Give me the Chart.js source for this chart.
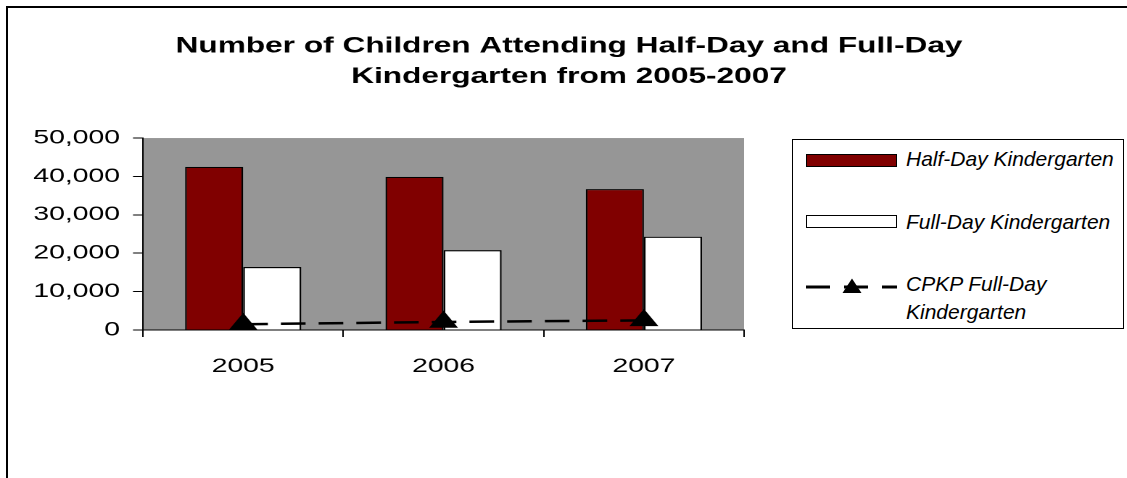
<!DOCTYPE html>
<html>
<head>
<meta charset="utf-8">
<script src="https://cdn.jsdelivr.net/npm/chart.js@4"></script>
<style>
body { margin: 0; background: #fff; }
#page { position: relative; width: 1127px; height: 478px; overflow: hidden; background: #fff; }
#frame { position: absolute; left: 6px; top: 6px; width: 1200px; height: 600px; border-left: 2px solid #000; border-top: 2px solid #000; }
#stretch { position: absolute; left: 0; top: 0; width: 777px; height: 478px; transform: scaleX(1.45045); transform-origin: 0 0; }
#legend { position: absolute; left: 792px; top: 139px; width: 332px; height: 190px; box-sizing: border-box; border: 1px solid #000; background: #fff;
  font-family: "Liberation Sans", Arial, sans-serif; font-style: italic; font-size: 21px; color: #000; }
#legend .sw { position: absolute; left: 13px; width: 91px; height: 13px; box-sizing: border-box; border: 1px solid #000; }
#legend .tx { position: absolute; left: 113px; width: 212px; line-height: 28px; }
#legend svg { position: absolute; left: 13px; top: 137px; }
</style>
</head>
<body>
<div id="page">
  <div id="frame"></div>
  <div id="stretch"><canvas id="myChart"></canvas></div>
  <div id="legend"></div>
</div>
<script>
const years = ['2005', '2006', '2007']
const halfDay = [42500, 39900, 36700]
const fullDay = [16400, 20800, 24300]
const cpkpFullDay = [1500, 2100, 2500]
const yTicks = [0, 10000, 20000, 30000, 40000, 50000]
const titleLines = ['Number of Children Attending Half-Day and Full-Day', 'Kindergarten from 2005-2007']
const seriesNames = ['Half-Day Kindergarten', 'Full-Day Kindergarten', 'CPKP Full-Day Kindergarten']

Chart.defaults.font.family = '"Liberation Sans", Arial, sans-serif'
Chart.defaults.color = '#000'

// grey plot area like the Excel original
const plotBg = {
    id: 'plotBg',
    beforeDraw(chart) {
        const {ctx, chartArea: a} = chart
        ctx.save()
        ctx.fillStyle = '#969696'
        ctx.fillRect(a.left, a.top, a.right - a.left, a.bottom - a.top)
        ctx.restore()
    }
}

const chart = new Chart('myChart', {
    type: 'bar',
    data: {
        labels: years,
        datasets: [{
            type: 'line',
            label: seriesNames[2],
            data: cpkpFullDay,
            borderColor: '#000',
            borderWidth: 2.5,
            borderDash: [17, 9],
            pointStyle: 'triangle',
            pointRadius: 11.5,
            pointBackgroundColor: '#000',
            pointBorderColor: '#000',
            pointBorderWidth: 0,
            fill: false,
            tension: 0,
            order: 0,
            clip: false
        }, {
            label: seriesNames[0],
            data: halfDay,
            backgroundColor: '#800000',
            borderColor: '#000',
            borderWidth: 1.2,
            order: 1
        }, {
            label: seriesNames[1],
            data: fullDay,
            backgroundColor: '#fff',
            borderColor: '#000',
            borderWidth: 1.2,
            order: 1
        }]
    },
    options: {
        responsive: true,
        maintainAspectRatio: false,
        animation: false,
        devicePixelRatio: 2,
        layout: { padding: { left: 7.6, right: 0, top: 0, bottom: 0 } },
        datasets: { bar: { categoryPercentage: 0.58, barPercentage: 1 } },
        plugins: {
            legend: { display: false },
            tooltip: { enabled: false },
            title: {
                display: true,
                text: titleLines,
                color: '#000',
                font: { size: 21.8, weight: 'bold', lineHeight: 1.4 },
                padding: { top: 31, bottom: 46 }
            }
        },
        scales: {
            x: {
                grid: { display: true, drawOnChartArea: false, drawTicks: true, tickLength: 7, color: '#000', offset: true },
                border: { display: true, color: '#000', width: 1 },
                ticks: { color: '#000', font: { size: 19.5 }, padding: 18 },
                afterFit(s) { s.height = 148 }
            },
            y: {
                min: yTicks[0],
                max: yTicks[yTicks.length - 1],
                ticks: {
                    stepSize: yTicks[1] - yTicks[0],
                    color: '#000',
                    font: { size: 19.5 },
                    padding: 9,
                    callback: v => v.toLocaleString('en-US')
                },
                grid: { drawOnChartArea: false, tickLength: 6.9, color: '#000' },
                border: { display: true, color: '#000', width: 1 },
                afterFit(s) { s.width = 91 }
            },
            // empty right-hand box, keeps room for the legend
            y2: {
                position: 'right',
                display: true,
                grid: { display: false },
                ticks: { display: false },
                border: { display: false },
                afterFit(s) { s.width = 264 }
            }
        }
    },
    plugins: [plotBg]
})

// legend in the boxed panel on the right
const legend = document.getElementById('legend')
const half = chart.data.datasets[1], full = chart.data.datasets[2], cpkp = chart.data.datasets[0]
legend.innerHTML =
    '<div class="sw" style="top:14px;background:' + half.backgroundColor + '"></div>' +
    '<div class="tx" style="top:5px;white-space:nowrap">' + half.label + '</div>' +
    '<div class="sw" style="top:75px;background:' + full.backgroundColor + '"></div>' +
    '<div class="tx" style="top:68px;white-space:nowrap">' + full.label + '</div>' +
    '<svg width="91" height="20"><line x1="0" y1="10" x2="91" y2="10" stroke="#000" stroke-width="3" stroke-dasharray="24,14"/>' +
    '<polygon points="36.5,16 55.5,16 46,1.5" fill="#000"/></svg>' +
    '<div class="tx" style="top:130px">' + cpkp.label + '</div>'
</script>
</body>
</html>
